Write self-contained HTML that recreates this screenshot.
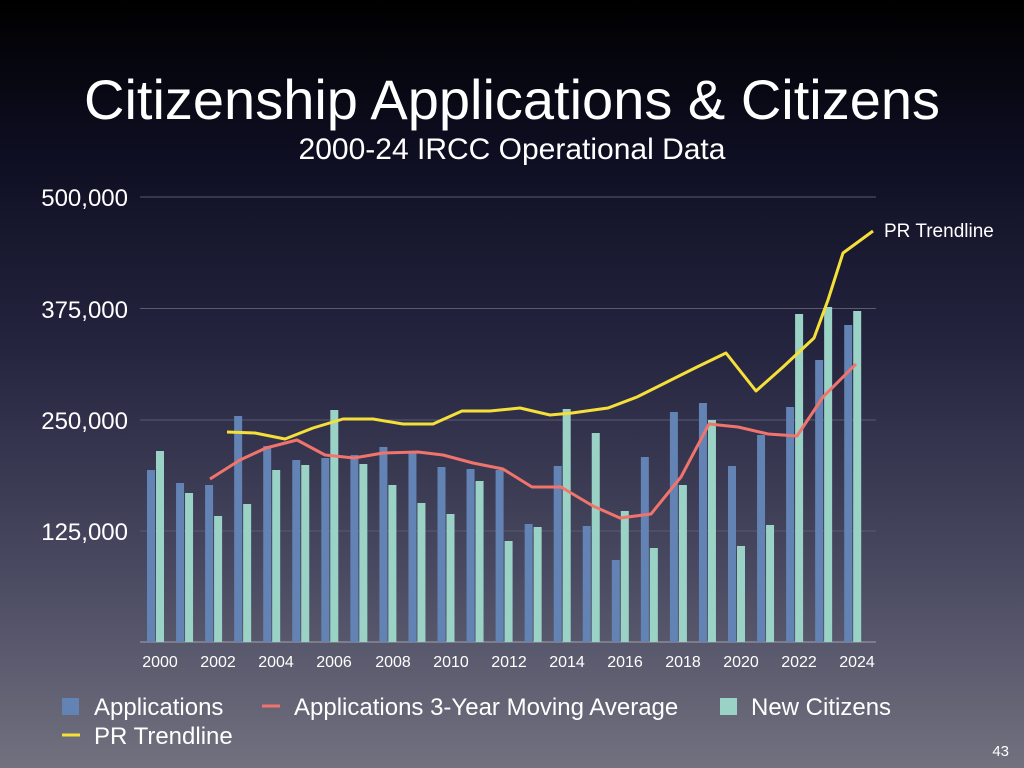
<!DOCTYPE html>
<html><head><meta charset="utf-8"><style>
body{margin:0;width:1024px;height:768px;overflow:hidden;background:linear-gradient(#000 0%,#0e0e22 20%,#24243f 45%,#4a4a62 75%,#72717f 100%);font-family:"Liberation Sans",sans-serif;color:#fff;position:relative}
.t{position:absolute;left:0;width:1024px;text-align:center;white-space:nowrap}
</style></head><body>
<div class="t" style="top:67px;font-size:56px">Citizenship Applications &amp; Citizens</div>
<div class="t" style="top:133px;font-size:30px">2000-24 IRCC Operational Data</div>
<svg width="1024" height="768" style="position:absolute;left:0;top:0" font-family="Liberation Sans, sans-serif">
<g stroke="#5a5a70" stroke-width="1">
<line x1="140" x2="876" y1="197" y2="197"/><line x1="140" x2="876" y1="308.5" y2="308.5"/><line x1="140" x2="876" y1="420" y2="420"/><line x1="140" x2="876" y1="531" y2="531"/></g>
<line x1="140" x2="876" y1="642" y2="642" stroke="#8a8a98" stroke-width="1.5"/>
<g fill="#fff" font-size="24" text-anchor="end"><text x="128" y="206">500,000</text><text x="128" y="318">375,000</text><text x="128" y="429">250,000</text><text x="128" y="540">125,000</text></g>
<g fill="#fff" font-size="16" text-anchor="middle">
<text x="160" y="667">2000</text><text x="218" y="667">2002</text><text x="276" y="667">2004</text><text x="334" y="667">2006</text><text x="393" y="667">2008</text><text x="451" y="667">2010</text><text x="509" y="667">2012</text><text x="567" y="667">2014</text><text x="625" y="667">2016</text><text x="683" y="667">2018</text><text x="741" y="667">2020</text><text x="799" y="667">2022</text><text x="857" y="667">2024</text></g>
<g id="bars"></g>
<polyline fill="none" stroke="#f0746c" stroke-width="3" stroke-linejoin="round" points="210,479 240,460 266,448 297,440 325,455 354,458 383,453 418,452 443,455 473,463 503,469 532,487 561,487 593,506 620,518 651,514 681,477 709,424 738,427 768,434 797,436 823,397 856,364"/>
<polyline fill="none" stroke="#f5e03a" stroke-width="3" stroke-linejoin="round" points="227,432 255,433 285,439 313,428 343,419 373,419 403,424 433,424 462,411 490,411 520,408 550,415 572,413 608,408 637,397 667,382 697,367 726,353 756,391 783,367 814,338 828,300 843,253 873,231"/>
<text x="884" y="237" fill="#fff" font-size="19">PR Trendline</text>
<rect x="62" y="698" width="17" height="17" fill="#6283b4"/><text x="94" y="715" fill="#fff" font-size="24">Applications</text>
<line x1="262" x2="280" y1="706" y2="706" stroke="#f0746c" stroke-width="3"/><text x="294" y="715" fill="#fff" font-size="24">Applications 3-Year Moving Average</text>
<rect x="720" y="698" width="17" height="17" fill="#9ad3c6"/><text x="751" y="715" fill="#fff" font-size="24">New Citizens</text>
<line x1="62" x2="80" y1="735" y2="735" stroke="#f5e03a" stroke-width="3"/><text x="94" y="744" fill="#fff" font-size="24">PR Trendline</text>
<text x="1009" y="756" fill="#fff" font-size="15" text-anchor="end">43</text>
</svg>
<script>
var a=[470,483,485,416,446,460,458,455,447,453,467,469,470,524,466,526,560,457,412,403,466,435,407,360,325];
var c=[451,493,516,504,470,465,410,464,485,503,514,481,541,527,409,433,511,548,485,420,546,525,314,307,311];
var s='';for(var i=0;i<25;i++){var x=147+29.05*i;
s+='<rect x="'+x+'" y="'+a[i]+'" width="8" height="'+(642-a[i])+'" fill="#6283b4"/>';
s+='<rect x="'+(x+9)+'" y="'+c[i]+'" width="8" height="'+(642-c[i])+'" fill="#9ad3c6"/>';}
document.getElementById('bars').innerHTML=s;
</script>
</body></html>
